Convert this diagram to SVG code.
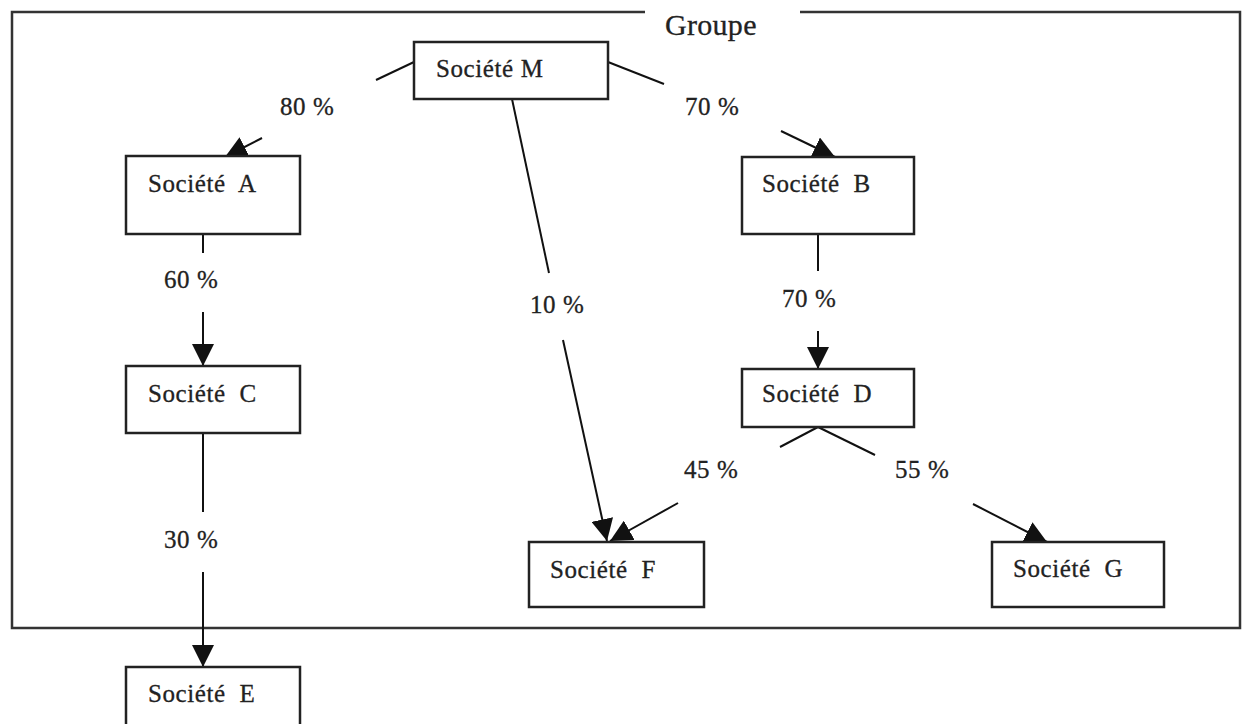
<svg xmlns="http://www.w3.org/2000/svg" width="1243" height="724" viewBox="0 0 1243 724">
<style>
.box{fill:#fff;stroke:#222;stroke-width:2.5}
.lbl{font-family:"Liberation Serif","Times New Roman",serif;font-size:25px;letter-spacing:0.6px;fill:#222;stroke:#222;stroke-width:0.3;white-space:pre}
.ln{stroke:#111;stroke-width:2;fill:none}
.arr{stroke:#111;stroke-width:2;fill:none;marker-end:url(#ah)}
</style>
<defs>
<marker id="ah" markerUnits="userSpaceOnUse" markerWidth="22" markerHeight="22" refX="20" refY="10" orient="auto" viewBox="0 0 20 20">
<path d="M0,0 L20,10 L0,20 z" fill="#111"/>
</marker>
</defs>
<rect width="1243" height="724" fill="#fff"/>
<g id="groupe">
<path d="M645,12 L12,12 L12,628 L1240,628 L1240,12 L800,12" fill="none" stroke="#333" stroke-width="2.5"/>
<text class="lbl" x="665" y="35" style="font-size:30px;letter-spacing:0.3px">Groupe</text>
</g>
<g id="connectors">
<line class="ln" x1="414" y1="62" x2="376" y2="80"/>
<line class="arr" x1="262" y1="138" x2="225" y2="157"/>
<line class="ln" x1="608" y1="62" x2="664" y2="84"/>
<line class="arr" x1="781" y1="131" x2="835" y2="157"/>
<line class="ln" x1="512" y1="99" x2="549" y2="273"/>
<line class="arr" x1="563" y1="340" x2="607" y2="541"/>
<line class="ln" x1="203" y1="234" x2="203" y2="253"/>
<line class="arr" x1="203" y1="312" x2="203" y2="366"/>
<line class="ln" x1="203" y1="433" x2="203" y2="512"/>
<line class="arr" x1="203" y1="572" x2="203" y2="667"/>
<line class="ln" x1="818" y1="234" x2="818" y2="271"/>
<line class="arr" x1="818" y1="331" x2="818" y2="369"/>
<line class="ln" x1="818" y1="427" x2="780" y2="447"/>
<line class="arr" x1="678" y1="503" x2="610" y2="541"/>
<line class="ln" x1="818" y1="427" x2="875" y2="455"/>
<line class="arr" x1="973" y1="504" x2="1047" y2="542"/>
<text class="lbl" x="280" y="115">80 %</text>
<text class="lbl" x="685" y="115">70 %</text>
<text class="lbl" x="164" y="288">60 %</text>
<text class="lbl" x="530" y="313">10 %</text>
<text class="lbl" x="782" y="307">70 %</text>
<text class="lbl" x="164" y="548">30 %</text>
<text class="lbl" x="684" y="478">45 %</text>
<text class="lbl" x="895" y="478">55 %</text>
</g>
<g id="societe-m"><rect class="box" x="414" y="42" width="194" height="57"/><text class="lbl" x="436" y="77">Société M</text></g>
<g id="societe-a"><rect class="box" x="126" y="156" width="174" height="78"/><text class="lbl" x="148" y="192">Société  A</text></g>
<g id="societe-b"><rect class="box" x="742" y="157" width="172" height="77"/><text class="lbl" x="762" y="192">Société  B</text></g>
<g id="societe-c"><rect class="box" x="126" y="366" width="174" height="67"/><text class="lbl" x="148" y="402">Société  C</text></g>
<g id="societe-d"><rect class="box" x="742" y="369" width="172" height="58"/><text class="lbl" x="762" y="402">Société  D</text></g>
<g id="societe-e"><rect class="box" x="126" y="667" width="174" height="70"/><text class="lbl" x="148" y="702">Société  E</text></g>
<g id="societe-f"><rect class="box" x="529" y="542" width="175" height="65"/><text class="lbl" x="550" y="578">Société  F</text></g>
<g id="societe-g"><rect class="box" x="992" y="542" width="172" height="65"/><text class="lbl" x="1013" y="577">Société  G</text></g>
</svg>
